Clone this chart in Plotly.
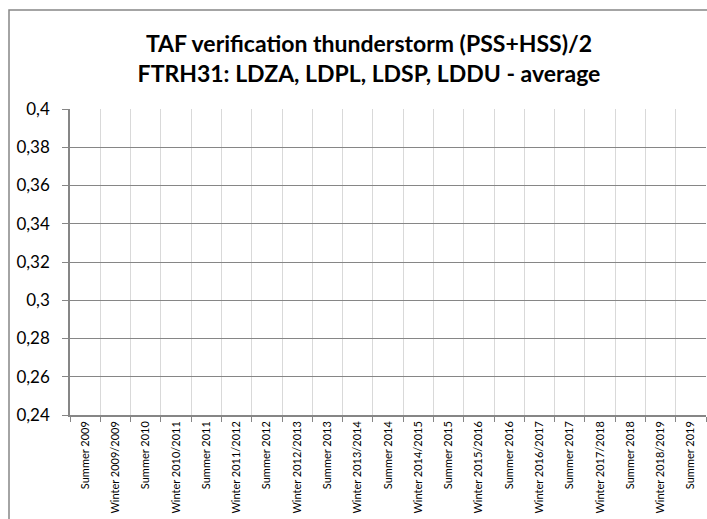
import plotly.graph_objects as go

categories = [
    "Summer 2009", "Winter 2009/2009", "Summer 2010", "Winter 2010/2011",
    "Summer 2011", "Winter 2011/2012", "Summer 2012", "Winter 2012/2013",
    "Summer 2013", "Winter 2013/2014", "Summer 2014", "Winter 2014/2015",
    "Summer 2015", "Winter 2015/2016", "Summer 2016", "Winter 2016/2017",
    "Summer 2017", "Winter 2017/2018", "Summer 2018", "Winter 2018/2019",
    "Summer 2019",
]
# The reference chart shows no plotted values
values = [None] * len(categories)

y_tick_vals = [0.24, 0.26, 0.28, 0.30, 0.32, 0.34, 0.36, 0.38, 0.40]
y_tick_text = ["0,24", "0,26", "0,28", "0,3", "0,32", "0,34", "0,36", "0,38", "0,4"]

title_text = "TAF verification thunderstorm (PSS+HSS)/2<br>FTRH31: LDZA, LDPL, LDSP, LDDU - average"

fig = go.Figure()
fig.add_trace(go.Scatter(x=categories, y=values, mode="lines", showlegend=False,
                         hoverinfo="skip"))

W, H = 707, 519
L, R, T, B = 70, 1, 109, 104
pw = W - L - R
ph = H - T - B

fig.update_layout(
    width=W, height=H,
    margin=dict(l=L, r=R, t=T, b=B, pad=0, autoexpand=False),
    paper_bgcolor="white", plot_bgcolor="white",
    font=dict(family="Lato, Carlito, Calibri, sans-serif", color="#000000"),
    title=dict(text=title_text, x=369 / W, xref="container", xanchor="center",
               y=1 - 52 / H, yref="container", yanchor="middle",
               font=dict(size=23, family="Lato, sans-serif", weight="bold", color="#000")),
    shapes=[dict(type="rect", xref="paper", yref="paper",
                 x0=(9 - L) / pw, x1=1.5, y0=-1.0, y1=1 + (T - 10) / ph,
                 line=dict(color="#868686", width=1.5), fillcolor="rgba(0,0,0,0)",
                 layer="below")],
)

fig.update_xaxes(
    type="category", categoryorder="array", categoryarray=categories,
    range=[-0.5, len(categories) - 0.5], automargin=False,
    tickson="boundaries", ticks="outside", ticklen=5, tickcolor="#868686",
    showgrid=True, gridcolor="#d9d9d9", gridwidth=1,
    showline=True, linecolor="#868686", linewidth=1.5,
    tickangle=-90, tickfont=dict(size=11, color="#000"),
    zeroline=False, fixedrange=True,
)
fig.update_yaxes(
    range=[0.24, 0.40], tickmode="array", tickvals=y_tick_vals, ticktext=y_tick_text,
    automargin=False,
    ticks="outside", ticklen=6, tickcolor="#868686",
    showgrid=True, gridcolor="#868686", gridwidth=1,
    showline=True, linecolor="#868686", linewidth=1.5,
    tickfont=dict(size=17, color="#000"), ticklabelstandoff=9,
    zeroline=False, fixedrange=True,
)

fig.write_html("out.html", config={"displayModeBar": False},
               post_script="document.body.style.margin='0';document.body.style.overflow='hidden';")
